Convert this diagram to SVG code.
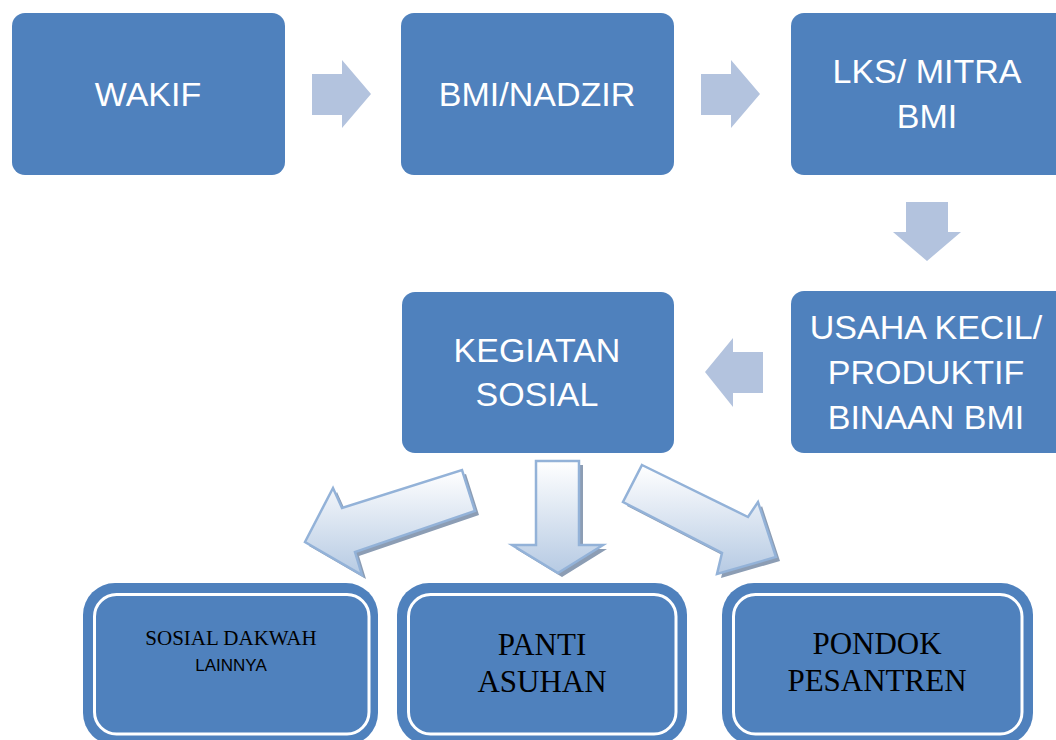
<svg xmlns="http://www.w3.org/2000/svg" width="1056" height="740" viewBox="0 0 1056 740">
<defs>
<linearGradient id="g3d" x1="0" y1="0" x2="0" y2="1">
<stop offset="0" stop-color="#ffffff"/>
<stop offset="1" stop-color="#b6cae3"/>
</linearGradient>
<style>
.box{fill:#4f81bd}
.t{font-family:"Liberation Sans",Arial,sans-serif;font-size:34px;fill:#ffffff;text-anchor:middle}
.arr{fill:#b3c3de}
.a3{fill:url(#g3d);stroke:#93b2d8;stroke-width:2.5;stroke-linejoin:miter}
.sh{fill:#8c9db4}
.ring{fill:none;stroke:#ffffff;stroke-width:3}
.ts{font-family:"Liberation Serif","Times New Roman",serif;fill:#000000;text-anchor:middle}
.tl{font-family:"Liberation Sans",Arial,sans-serif;fill:#000000;text-anchor:middle}
</style>
</defs>
<rect width="1056" height="740" fill="#ffffff"/>

<g id="connectors">
<polygon class="arr" points="312,74 342,74 342,60 371,94 342,128 342,115 312,115"/>
<polygon class="arr" points="701,74 731,74 731,60 760,94 731,128 731,115 701,115"/>
<polygon class="arr" points="906,202 948,202 948,232 961,232 927,261 893,232 906,232"/>
<polygon class="arr" points="763,352 733,352 733,338 705,372 733,407 733,393 763,393"/>
<g transform="translate(4,4)">
<polygon class="sh" points="305,542 333,488 342,508 462,470 475,511 355,552 362,575"/>
<polygon class="sh" points="536,461 579,461 579,545 603,545 558,573 512,545 536,545"/>
<polygon class="sh" points="642,465 748,517 758,502 776,557 717,574 722,553 623,502"/>
</g>
<polygon class="a3" points="305,542 333,488 342,508 462,470 475,511 355,552 362,575"/>
<polygon class="a3" points="536,461 579,461 579,545 603,545 558,573 512,545 536,545"/>
<polygon class="a3" points="642,465 748,517 758,502 776,557 717,574 722,553 623,502"/>
</g>

<g id="wakif">
<rect class="box" x="12" y="13" width="273" height="162" rx="13"/>
<text class="t" x="148" y="106">WAKIF</text>
</g>
<g id="bmi-nadzir">
<rect class="box" x="401" y="13" width="273" height="162" rx="13"/>
<text class="t" x="537" y="106">BMI/NADZIR</text>
</g>
<g id="lks-mitra">
<rect class="box" x="791" y="13" width="280" height="162" rx="13"/>
<text class="t" x="927" y="83">LKS/ MITRA</text>
<text class="t" x="927" y="128">BMI</text>
</g>
<g id="usaha-kecil">
<rect class="box" x="791" y="291" width="280" height="162" rx="13"/>
<text class="t" x="926" y="339">USAHA KECIL/</text>
<text class="t" x="926" y="384">PRODUKTIF</text>
<text class="t" x="926" y="429">BINAAN BMI</text>
</g>
<g id="kegiatan-sosial">
<rect class="box" x="402" y="292" width="272" height="161" rx="13"/>
<text class="t" x="537" y="362">KEGIATAN</text>
<text class="t" x="537" y="406">SOSIAL</text>
</g>

<g id="sosial-dakwah">
<rect class="box" x="83" y="583" width="295" height="162" rx="32"/>
<rect class="ring" x="94.5" y="594.5" width="274.5" height="139.5" rx="22"/>
<text class="ts" x="231" y="645" font-size="21">SOSIAL DAKWAH</text>
<text class="tl" x="231" y="671" font-size="17">LAINNYA</text>
</g>
<g id="panti-asuhan">
<rect class="box" x="397" y="583" width="290" height="162" rx="32"/>
<rect class="ring" x="408.5" y="594.5" width="267.5" height="139.5" rx="22"/>
<text class="ts" x="542" y="655" font-size="31">PANTI</text>
<text class="ts" x="542" y="692" font-size="31">ASUHAN</text>
</g>
<g id="pondok-pesantren">
<rect class="box" x="722" y="583" width="311" height="162" rx="32"/>
<rect class="ring" x="733.5" y="594.5" width="288.5" height="139.5" rx="22"/>
<text class="ts" x="877" y="654" font-size="31">PONDOK</text>
<text class="ts" x="877" y="691" font-size="31">PESANTREN</text>
</g>
</svg>
